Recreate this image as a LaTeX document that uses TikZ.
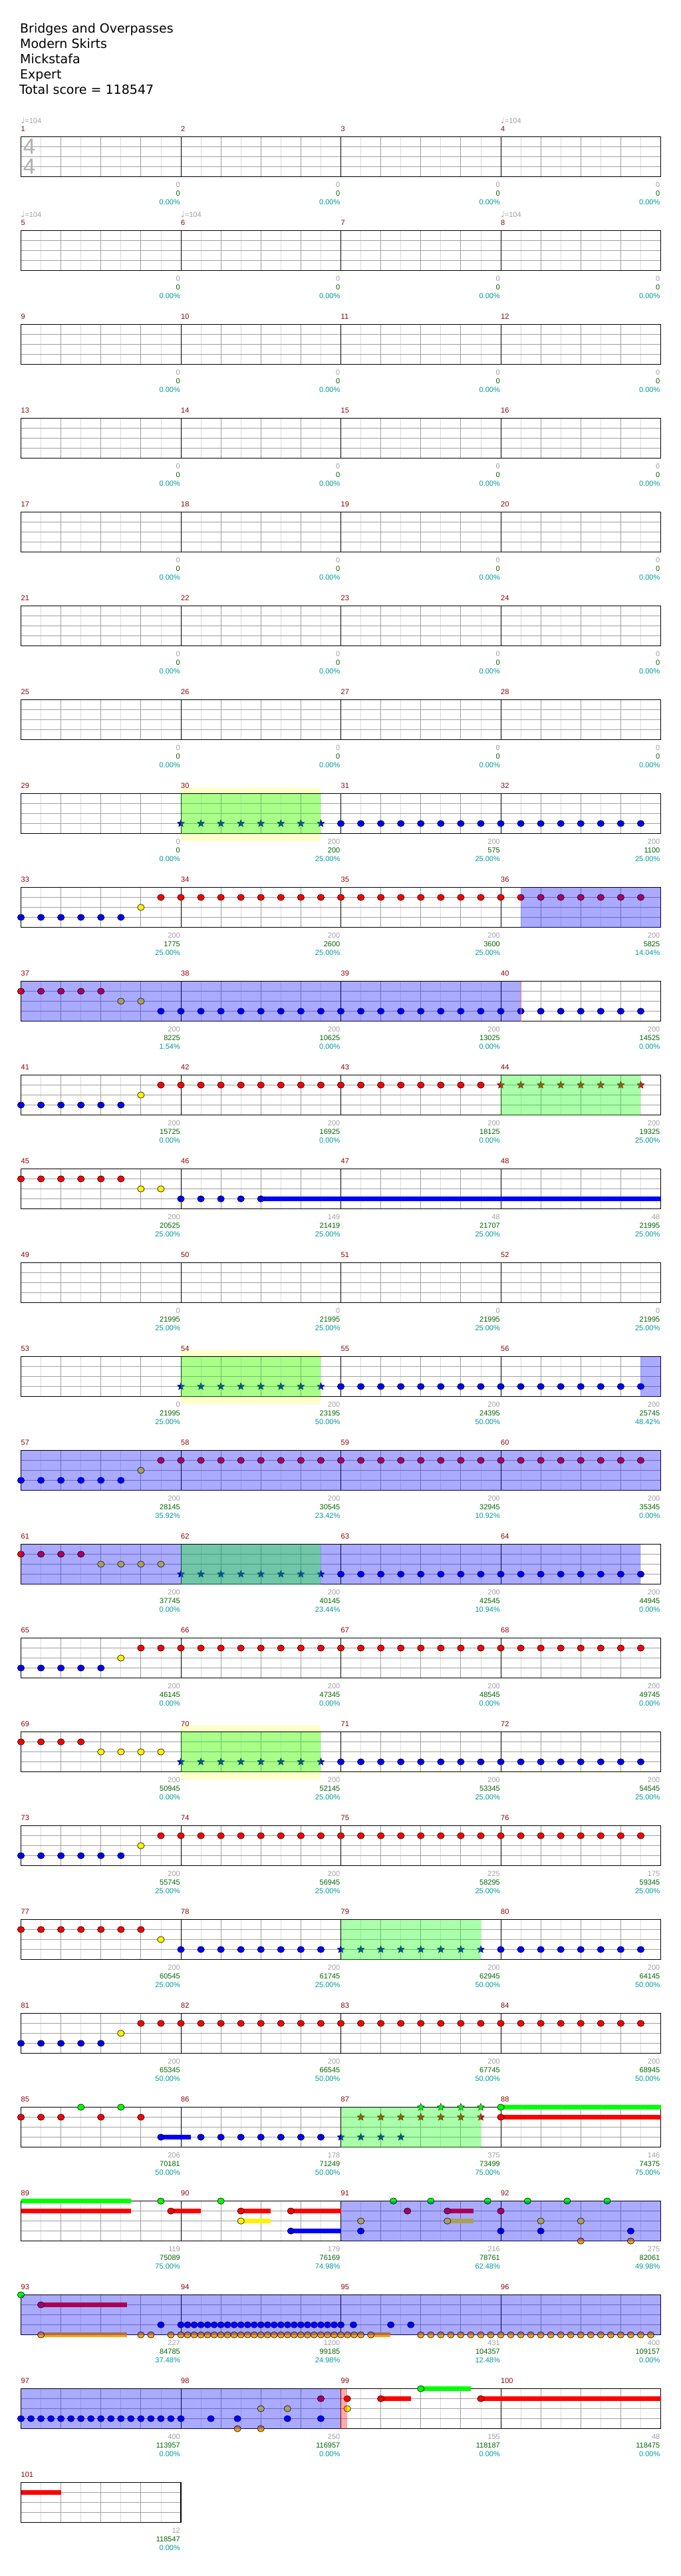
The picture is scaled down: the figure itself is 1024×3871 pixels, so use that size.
\documentclass[tikz,border=0pt]{standalone}
\usepackage{fontspec}
\setmainfont{DejaVu Sans}
\newfontfamily\labelfont{Liberation Sans}
\newfontfamily\musicfont{DejaVu Sans}
\usetikzlibrary{shapes.geometric}
\usepackage{xcolor}
\definecolor{barred}{RGB}{139,0,0}
\definecolor{ptsgray}{RGB}{160,160,160}
\definecolor{scoregreen}{RGB}{0,100,0}
\definecolor{pctteal}{RGB}{0,153,153}
\definecolor{gridgray}{RGB}{160,160,160}
\definecolor{gridlight}{RGB}{221,221,221}
\definecolor{fretorange}{RGB}{255,165,0}
\definecolor{unisonyellow}{RGB}{255,255,204}
\definecolor{sigcolor}{RGB}{175,175,175}

\newcommand\smallfont{\labelfont\fontsize{11}{13}\selectfont}
\newcommand\posx[1]{31.5+30.0625*(#1)}
\newcommand\posy[1]{205.5+141*(#1)}

% staff grid and bar numbers of one row
\newcommand\staffrow[2]{%
  \pgfmathsetmacro\rowtop{\posy{#1}}
  \pgfmathsetmacro\rowend{\posx{8*#2}}
  \pgfmathtruncatemacro\lasteighth{8*#2-1}
  \pgfmathtruncatemacro\lastquarter{8*#2-2}
  \foreach \i in {1,3,...,\lasteighth}
    \draw[eighthline] ({\posx{\i}},\rowtop) -- ++(0,60);
  \foreach \i in {2,4,...,\lastquarter}
    \draw[beatline] ({\posx{\i}},\rowtop) -- ++(0,60);
  \foreach \j in {15,30,45}
    \draw[beatline] ({\posx{0}},\rowtop+\j) -- (\rowend,\rowtop+\j);
  \ifnum#2>1
    \pgfmathtruncatemacro\lastbar{#2-1}
    \foreach \m in {1,...,\lastbar}
      \draw[barline] ({\posx{8*\m}},\rowtop) -- ++(0,60);
  \fi
  \draw[staffframe] ({\posx{0}},\rowtop) rectangle (\rowend,\rowtop+60);
  \foreach \m in {1,...,#2} {
    \pgfmathtruncatemacro\barno{4*#1+\m}
    \node[barnum] (bar-\barno) at ({\posx{8*(\m-1)}},\rowtop-11.5) {\barno};
  }
}
% points / score / percent under each bar
\newcommand\rowstats[2]{%
  \foreach \pts/\score/\pct [count=\m] in {#2} {
    \pgfmathtruncatemacro\barno{4*#1+\m}
    \node[ptsnum] (pts-\barno) at ({\posx{8*\m}-1},{\posy{#1}+72.5}) {\pts};
    \node[scorenum] (score-\barno) at ({\posx{8*\m}-1},{\posy{#1}+85.5}) {\score};
    \node[pctnum] (pct-\barno) at ({\posx{8*\m}-1},{\posy{#1}+98.5}) {\pct\%};
  }
}
\newcommand\gnote[4]{\filldraw[notehead, fill=#4] ({\posx{#2}},{\posy{#1}+#3}) ellipse [x radius=5.2pt, y radius=4.7pt];}
\newcommand\gstar[4]{\node[starnote, fill=#4] (star-#1-#2-#3) at ({\posx{#2}},{\posy{#1}+#3}) {};}
\newcommand\gsus[5]{\fill[#5] ({\posx{#2}},{\posy{#1}+#4-3.4}) rectangle ({\posx{#3}},{\posy{#1}+#4+3.4});}
\newcommand\overdrive[4]{\fill[#4, opacity=0.333] ({\posx{#2}},{\posy{#1}}) rectangle ({\posx{#3}},{\posy{#1}+60});}
\newcommand\unisonbg[3]{\fill[unisonyellow] ({\posx{#2}},{\posy{#1}-10}) rectangle ({\posx{#3}},{\posy{#1}+71.5});}

\begin{document}
\begin{tikzpicture}[
  x=1pt, y=-1pt,
  headline/.style={anchor=base west, inner sep=0pt, font=\fontsize{19}{23}\selectfont},
  barnum/.style={anchor=west, inner sep=0pt, text=barred, font=\smallfont},
  ptsnum/.style={anchor=east, inner sep=0pt, text=ptsgray, font=\smallfont},
  scorenum/.style={anchor=east, inner sep=0pt, text=scoregreen, font=\smallfont},
  pctnum/.style={anchor=east, inner sep=0pt, text=pctteal, font=\smallfont},
  tempo/.style={anchor=west, inner sep=0pt, text=ptsgray, font=\smallfont},
  timesig/.style={inner sep=0pt, text=sigcolor, font=\labelfont\fontsize{33}{33}\selectfont},
  eighthline/.style={draw=gridlight, line width=0.8pt},
  beatline/.style={draw=gridgray, line width=0.8pt},
  barline/.style={draw=black, line width=0.8pt},
  staffframe/.style={draw=black, line width=1.3pt},
  notehead/.style={draw=black, line width=0.6pt},
  starnote/.style={star, star points=5, star point ratio=2.3, minimum size=11.5pt, inner sep=0pt, draw=black, line width=0.4pt}
]
\useasboundingbox (0,0) rectangle (1024,3871);

\node[headline] (song) at (30,49) {Bridges and Overpasses};
\node[headline] (artist) at (30,72.3) {Modern Skirts};
\node[headline] (charter) at (30,95.5) {Mickstafa};
\node[headline] (level) at (30,118.6) {Expert};
\node[headline] (total) at (29,141.7) {Total score = 118547};

\unisonbg{7}{8}{15}
\unisonbg{13}{8}{15}
\unisonbg{17}{8}{15}

\foreach \r in {0,...,24} {\staffrow{\r}{4}}
\staffrow{25}{1}

\node[timesig] (sig-top) at (44,{\posy{0}+14.5}) {4};
\node[timesig] (sig-bottom) at (44,{\posy{0}+44.5}) {4};
\node[tempo] (tempo-1) at ({\posx{0}},{\posy{0}-24.5}) {{\musicfont\fontsize{12}{12}\selectfont ♩}=104};
\node[tempo] (tempo-4) at ({\posx{24}},{\posy{0}-24.5}) {{\musicfont\fontsize{12}{12}\selectfont ♩}=104};
\node[tempo] (tempo-5) at ({\posx{0}},{\posy{1}-24.5}) {{\musicfont\fontsize{12}{12}\selectfont ♩}=104};
\node[tempo] (tempo-6) at ({\posx{8}},{\posy{1}-24.5}) {{\musicfont\fontsize{12}{12}\selectfont ♩}=104};
\node[tempo] (tempo-8) at ({\posx{24}},{\posy{1}-24.5}) {{\musicfont\fontsize{12}{12}\selectfont ♩}=104};

% bars 29-32
\foreach \p in {8,...,15} {\gstar{7}{\p}{45}{blue}}
\foreach \p in {16,...,31} {\gnote{7}{\p}{45}{blue}}
% bars 33-36
\foreach \p in {0,...,5} {\gnote{8}{\p}{45}{blue}}
\gnote{8}{6}{30}{yellow}
\foreach \p in {7,...,31} {\gnote{8}{\p}{15}{red}}
% bars 37-40
\foreach \p in {0,...,4} {\gnote{9}{\p}{15}{red}}
\foreach \p in {5,6} {\gnote{9}{\p}{30}{yellow}}
\foreach \p in {7,...,31} {\gnote{9}{\p}{45}{blue}}
% bars 41-44
\foreach \p in {0,...,5} {\gnote{10}{\p}{45}{blue}}
\gnote{10}{6}{30}{yellow}
\foreach \p in {7,...,23} {\gnote{10}{\p}{15}{red}}
\foreach \p in {24,...,31} {\gstar{10}{\p}{15}{red}}
% bars 45-48
\foreach \p in {0,...,5} {\gnote{11}{\p}{15}{red}}
\foreach \p in {6,7} {\gnote{11}{\p}{30}{yellow}}
\gsus{11}{12}{32}{45}{blue}
\foreach \p in {8,...,12} {\gnote{11}{\p}{45}{blue}}
% bars 53-56
\foreach \p in {8,...,15} {\gstar{13}{\p}{45}{blue}}
\foreach \p in {16,...,31} {\gnote{13}{\p}{45}{blue}}
% bars 57-60
\foreach \p in {0,...,5} {\gnote{14}{\p}{45}{blue}}
\gnote{14}{6}{30}{yellow}
\foreach \p in {7,...,31} {\gnote{14}{\p}{15}{red}}
% bars 61-64
\foreach \p in {0,...,3} {\gnote{15}{\p}{15}{red}}
\foreach \p in {4,...,7} {\gnote{15}{\p}{30}{yellow}}
\foreach \p in {8,...,15} {\gstar{15}{\p}{45}{blue}}
\foreach \p in {16,...,31} {\gnote{15}{\p}{45}{blue}}
% bars 65-68
\foreach \p in {0,...,4} {\gnote{16}{\p}{45}{blue}}
\gnote{16}{5}{30}{yellow}
\foreach \p in {6,...,31} {\gnote{16}{\p}{15}{red}}
% bars 69-72
\foreach \p in {0,...,3} {\gnote{17}{\p}{15}{red}}
\foreach \p in {4,...,7} {\gnote{17}{\p}{30}{yellow}}
\foreach \p in {8,...,15} {\gstar{17}{\p}{45}{blue}}
\foreach \p in {16,...,31} {\gnote{17}{\p}{45}{blue}}
% bars 73-76
\foreach \p in {0,...,5} {\gnote{18}{\p}{45}{blue}}
\gnote{18}{6}{30}{yellow}
\foreach \p in {7,...,31} {\gnote{18}{\p}{15}{red}}
% bars 77-80
\foreach \p in {0,...,6} {\gnote{19}{\p}{15}{red}}
\gnote{19}{7}{30}{yellow}
\foreach \p in {8,...,15} {\gnote{19}{\p}{45}{blue}}
\foreach \p in {16,...,23} {\gstar{19}{\p}{45}{blue}}
\foreach \p in {24,...,31} {\gnote{19}{\p}{45}{blue}}
% bars 81-84
\foreach \p in {0,...,4} {\gnote{20}{\p}{45}{blue}}
\gnote{20}{5}{30}{yellow}
\foreach \p in {6,...,31} {\gnote{20}{\p}{15}{red}}
% bars 85-88
\gsus{21}{7}{8.5}{45}{blue}
\gsus{21}{24}{32}{0}{green}
\gsus{21}{24}{32}{15}{red}
\foreach \p in {0,1,2,4,6} {\gnote{21}{\p}{15}{red}}
\foreach \p in {3,5} {\gnote{21}{\p}{0}{green}}
\foreach \p in {7,9,10,11,12,13,14,15} {\gnote{21}{\p}{45}{blue}}
\foreach \p in {16,...,19} {\gstar{21}{\p}{45}{blue}}
\foreach \p in {17,...,23} {\gstar{21}{\p}{15}{red}}
\foreach \p in {20,...,23} {\gstar{21}{\p}{0}{green}}
\gnote{21}{24}{0}{green}
\gnote{21}{24}{15}{red}
% bars 89-92
\gsus{22}{0}{5.5}{0}{green}
\gsus{22}{0}{5.5}{15}{red}
\gsus{22}{7.5}{9}{15}{red}
\gsus{22}{11}{12.5}{15}{red}
\gsus{22}{11}{12.5}{30}{yellow}
\gsus{22}{13.5}{16}{15}{red}
\gsus{22}{13.5}{16}{45}{blue}
\gsus{22}{21.33}{22.64}{15}{red}
\gsus{22}{21.33}{22.64}{30}{yellow}
\foreach \p in {7,10,18.63,20.5,23.34,25.34,27.32,29.32} {\gnote{22}{\p}{0}{green}}
\foreach \p in {7.5,11,13.5,19.33,21.33,24} {\gnote{22}{\p}{15}{red}}
\foreach \p in {11,17,21.33,26,28} {\gnote{22}{\p}{30}{yellow}}
\foreach \p in {13.5,17,24,26,30.5} {\gnote{22}{\p}{45}{blue}}
\foreach \p in {28,30.5} {\gnote{22}{\p}{60}{fretorange}}
% bars 93-96
\gsus{23}{1}{5.29}{15}{red}
\gsus{23}{1}{5.29}{60}{fretorange}
\gsus{23}{17.5}{18.48}{60}{fretorange}
\gnote{23}{0}{0}{green}
\gnote{23}{1}{15}{red}
\foreach \p in {7,16.63,18.5,19.5} {\gnote{23}{\p}{45}{blue}}
\foreach \k in {0,...,24} {\gnote{23}{8+\k/3}{45}{blue}}
\foreach \p in {1,6,6.5,7.5,17.5} {\gnote{23}{\p}{60}{fretorange}}
\foreach \k in {0,...,27} {\gnote{23}{8+\k/3}{60}{fretorange}}
\foreach \k in {0,...,23} {\gnote{23}{20+\k/2}{60}{fretorange}}
% bars 97-100
\gsus{24}{18}{19.5}{15}{red}
\gsus{24}{20}{22.5}{0}{green}
\gsus{24}{23}{32}{15}{red}
\foreach \k in {0,...,16} {\gnote{24}{\k/2}{45}{blue}}
\foreach \p in {9.5,10.83,13.33,15} {\gnote{24}{\p}{45}{blue}}
\foreach \p in {10.83,12} {\gnote{24}{\p}{60}{fretorange}}
\foreach \p in {12,13.33,16.32} {\gnote{24}{\p}{30}{yellow}}
\foreach \p in {15,16.32,18,23} {\gnote{24}{\p}{15}{red}}
\gnote{24}{20}{0}{green}
% bar 101
\gsus{25}{0}{2}{15}{red}

\overdrive{7}{8}{15}{green}
\overdrive{8}{25}{32}{blue}
\overdrive{9}{0}{25}{blue}
\draw[red!55, line width=0.8pt] ({\posx{25}},{\posy{9}}) -- ++(0,60);
\overdrive{10}{24}{31}{green}
\overdrive{13}{8}{15}{green}
\overdrive{13}{31}{32}{blue}
\overdrive{14}{0}{32}{blue}
\overdrive{15}{0}{31}{blue}
\overdrive{15}{8}{15}{green}
\overdrive{17}{8}{15}{green}
\overdrive{19}{16}{23}{green}
\overdrive{21}{16}{23}{green}
\overdrive{22}{16}{32}{blue}
\overdrive{23}{0}{32}{blue}
\overdrive{24}{0}{16}{blue}
\overdrive{24}{16}{16.3}{red}
\draw[barred, line width=0.8pt] ({\posx{16}},{\posy{24}}) -- ++(0,60);

\foreach \r in {0,...,6} {\rowstats{\r}{0/0/0.00, 0/0/0.00, 0/0/0.00, 0/0/0.00}}
\rowstats{7}{0/0/0.00, 200/200/25.00, 200/575/25.00, 200/1100/25.00}
\rowstats{8}{200/1775/25.00, 200/2600/25.00, 200/3600/25.00, 200/5825/14.04}
\rowstats{9}{200/8225/1.54, 200/10625/0.00, 200/13025/0.00, 200/14525/0.00}
\rowstats{10}{200/15725/0.00, 200/16925/0.00, 200/18125/0.00, 200/19325/25.00}
\rowstats{11}{200/20525/25.00, 149/21419/25.00, 48/21707/25.00, 48/21995/25.00}
\rowstats{12}{0/21995/25.00, 0/21995/25.00, 0/21995/25.00, 0/21995/25.00}
\rowstats{13}{0/21995/25.00, 200/23195/50.00, 200/24395/50.00, 200/25745/48.42}
\rowstats{14}{200/28145/35.92, 200/30545/23.42, 200/32945/10.92, 200/35345/0.00}
\rowstats{15}{200/37745/0.00, 200/40145/23.44, 200/42545/10.94, 200/44945/0.00}
\rowstats{16}{200/46145/0.00, 200/47345/0.00, 200/48545/0.00, 200/49745/0.00}
\rowstats{17}{200/50945/0.00, 200/52145/25.00, 200/53345/25.00, 200/54545/25.00}
\rowstats{18}{200/55745/25.00, 200/56945/25.00, 225/58295/25.00, 175/59345/25.00}
\rowstats{19}{200/60545/25.00, 200/61745/25.00, 200/62945/50.00, 200/64145/50.00}
\rowstats{20}{200/65345/50.00, 200/66545/50.00, 200/67745/50.00, 200/68945/50.00}
\rowstats{21}{206/70181/50.00, 178/71249/50.00, 375/73499/75.00, 146/74375/75.00}
\rowstats{22}{119/75089/75.00, 179/76169/74.98, 216/78761/62.48, 275/82061/49.98}
\rowstats{23}{227/84785/37.48, 1200/99185/24.98, 431/104357/12.48, 400/109157/0.00}
\rowstats{24}{400/113957/0.00, 250/116957/0.00, 155/118187/0.00, 48/118475/0.00}
\rowstats{25}{12/118547/0.00}
\end{tikzpicture}
\end{document}
